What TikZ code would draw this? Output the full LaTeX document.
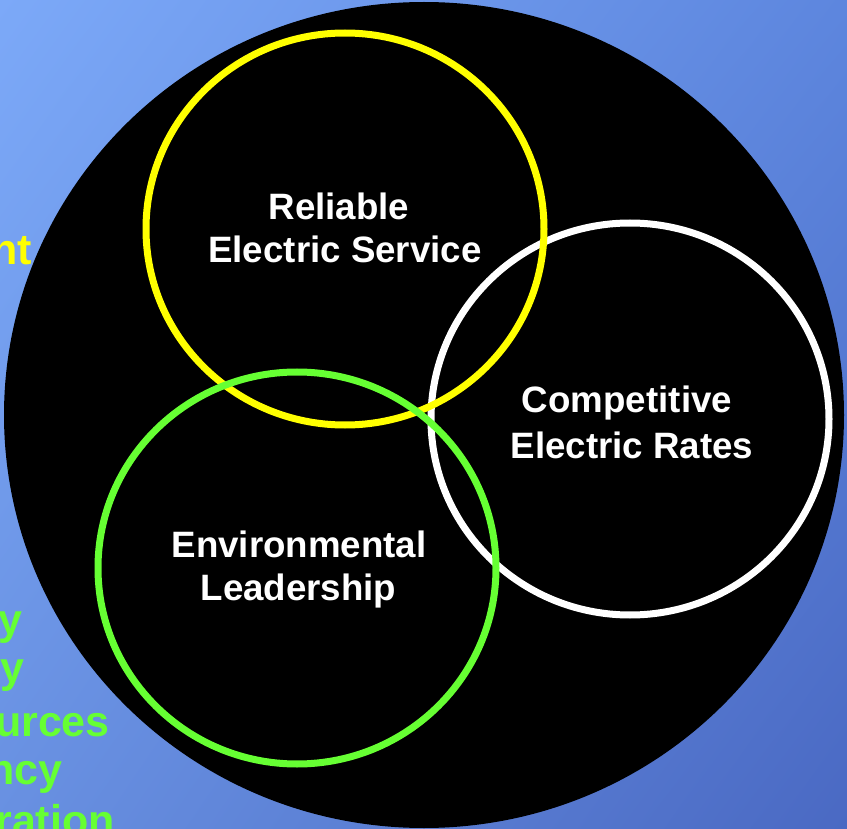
\documentclass[tikz,border=0pt]{standalone}
\usepackage{fontspec}
\usetikzlibrary{shadings}
\setmainfont{Liberation Sans}
\definecolor{bgUL}{HTML}{7CA9F8}
\definecolor{bgUR}{HTML}{5D86DE}
\definecolor{bgLL}{HTML}{6890E1}
\definecolor{bgLR}{HTML}{4A69C3}
\definecolor{ringYellow}{HTML}{FFFF00}
\definecolor{ringGreen}{HTML}{66FF33}
\tikzset{
  ring/.style={line width=7pt, fill=none},
  label/.style={inner sep=0pt, anchor=base, text=white,
    font=\bfseries\fontsize{36.7}{44}\selectfont},
  sidetext/.style={inner sep=0pt, anchor=base east,
    font=\bfseries\fontsize{43}{50}\selectfont},
}
\begin{document}
\begin{tikzpicture}[x=1pt,y=-1pt]
  \useasboundingbox (0,0) rectangle (847,829);
  \clip (0,0) rectangle (847,829);
  % blue backdrop
  \shade[upper left=bgUL, upper right=bgUR, lower left=bgLL, lower right=bgLR]
    (0,0) rectangle (847,829);

  % list fragments at the left edge
  \node[sidetext, text=ringYellow] (tnt) at (32,265) {nt};
  \node[sidetext, text=ringGreen] (t1) at (23,634) {y};
  \node[sidetext, text=ringGreen] (t2) at (25,682) {cy};
  \node[sidetext, text=ringGreen] (t3) at (110,736) {urces};
  \node[sidetext, text=ringGreen] (t4) at (63,784) {ncy};
  \node[sidetext, text=ringGreen] (t5) at (115,835) {ration};

  % black disc
  \fill[black] (424,415) ellipse [x radius=420, y radius=413];

  % three overlapping rings
  \draw[ring, white] (630,419) ellipse [x radius=199, y radius=196];
  \draw[ring, ringYellow] (345,229) ellipse [x radius=199, y radius=196];
  \draw[ring, ringGreen] (297,568) ellipse [x radius=199, y radius=196];

  % ring captions
  \node[label] (rel1) at (339,220) {Reliable};
  \node[label] (rel2) at (345,263) {Electric Service};
  \node[label] (cmp1) at (627,413) {Competitive};
  \node[label] (cmp2) at (632,458) {Electric Rates};
  \node[label] (env1) at (299,557) {Environmental};
  \node[label] (env2) at (298.5,600) {Leadership};
\end{tikzpicture}
\end{document}
